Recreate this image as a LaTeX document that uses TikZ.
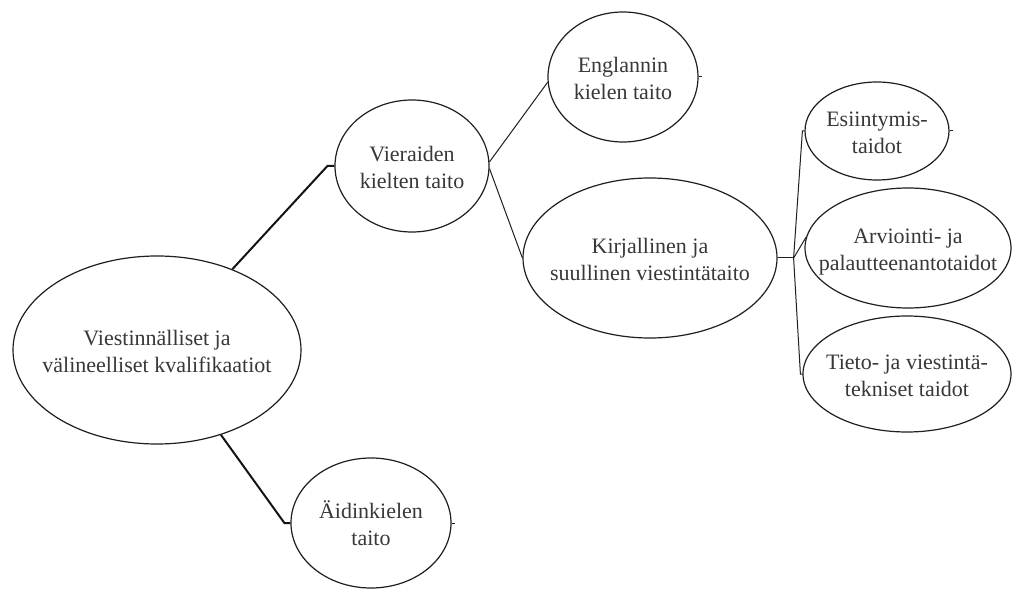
\documentclass[tikz,border=0pt]{standalone}
\usepackage{fontspec}
\setmainfont{Liberation Serif}
\usetikzlibrary{shapes.geometric}
% two-line label of zero size, so the ellipse keeps its given size
\newcommand{\twoline}[1]{\makebox[0pt]{\raisebox{-8.5pt}[0pt][0pt]{\begin{tabular}{@{}c@{}}#1\end{tabular}}}}
\begin{document}
\begin{tikzpicture}[x=1pt,y=1pt,
  bubble/.style={ellipse, draw=black!88, line width=1.2pt, inner sep=0pt,
    text=black!78, font=\fontsize{22}{27.5}\selectfont},
  thin/.style={draw=black!88, line width=1pt},
  thick/.style={draw=black!92, line width=2pt}]
\fill[white] (0,0) rectangle (1012,590);
\useasboundingbox (0,0) rectangle (1012,590);

\node[bubble, minimum width=288pt, minimum height=188pt] (root) at (157,240)
  {\twoline{Viestinnälliset ja\\välineelliset kvalifikaatiot}};
\node[bubble, minimum width=154pt, minimum height=132pt] (vier) at (412,424)
  {\twoline{Vieraiden\\kielten taito}};
\node[bubble, minimum width=150pt, minimum height=130pt] (eng) at (623,513)
  {\twoline{Englannin\\kielen taito}};
\node[bubble, minimum width=254pt, minimum height=160pt] (kirj) at (650,332)
  {\twoline{Kirjallinen ja\\suullinen viestintätaito}};
\node[bubble, minimum width=144pt, minimum height=98pt] (esi) at (877,459)
  {\twoline{Esiintymis-\\taidot}};
\node[bubble, minimum width=206pt, minimum height=120pt] (arv) at (908,342)
  {\twoline{Arviointi- ja\\palautteenantotaidot}};
\node[bubble, minimum width=208pt, minimum height=116pt] (tie) at (907,216)
  {\twoline{Tieto- ja viestintä-\\tekniset taidot}};
\node[bubble, minimum width=160pt, minimum height=130pt] (aid) at (371,67)
  {\twoline{Äidinkielen\\taito}};

% connectors from the root
\draw[thick] (root.47) -- ([xshift=-7pt]vier.west) -- (vier.west);
\draw[thick] (root.-53.5) -- ([xshift=-6pt]aid.west) -- (aid.west);

% second level
\draw[thin] (vier.3) -- (eng.184);
\draw[thin] (vier.-2) -- (kirj.west);

% fan-out from the written and spoken skills
\coordinate (fan) at ([xshift=16pt]kirj.east);
\draw[thin] (kirj.east) -- (fan);
\draw[thin] (fan) -- ([xshift=-2pt]esi.west) -- (esi.west);
\draw[thin] (fan) -- (arv.174);
\draw[thin] (fan) -- ([xshift=-2pt]tie.west) -- (tie.west);

% short strokes on the right-hand side of some ellipses
\draw[thin] (eng.east) -- ++(3pt,0);
\draw[thin] (esi.east) -- ++(3pt,0);
\draw[thin] (aid.east) -- ++(3pt,0);
\end{tikzpicture}
\end{document}
